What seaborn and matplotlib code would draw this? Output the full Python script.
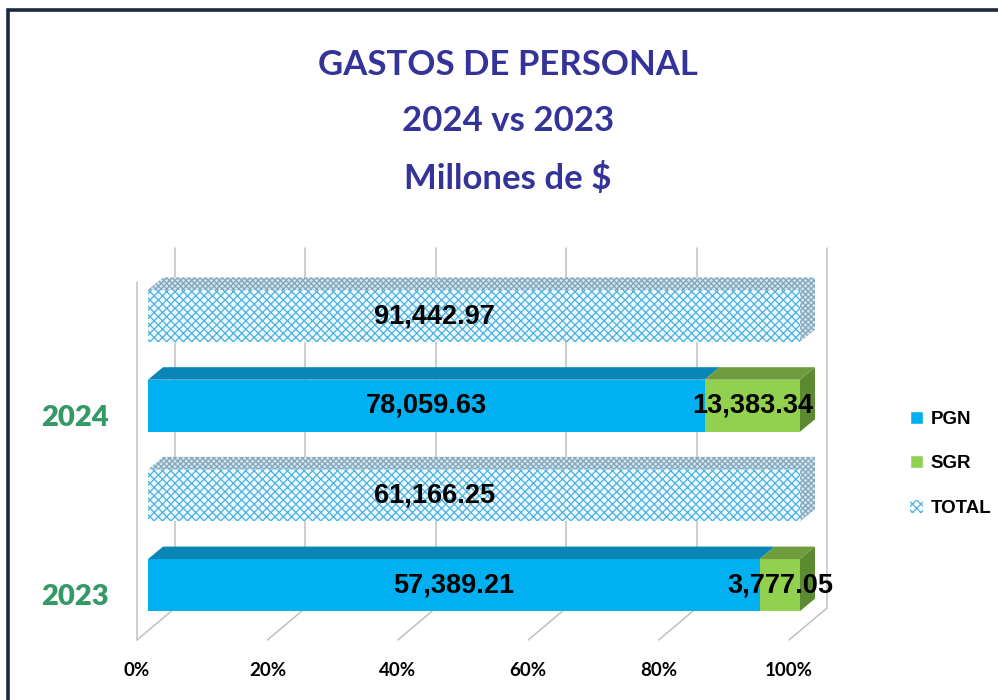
import numpy as np
import pandas as pd
import matplotlib
matplotlib.use("Agg")
import matplotlib.pyplot as plt
from matplotlib.patches import Patch, Polygon, Rectangle
import seaborn as sns

# datos (millones de $)
anios = ["2024", "2023"]
pgn = [78059.63, 57389.21]
sgr = [13383.34, 3777.05]
total = [91442.97, 61166.25]
filas = ["TOTAL 2024", "PGN 2024", "TOTAL 2023", "PGN 2023"]
ticks_pct = [0, 20, 40, 60, 80, 100]

# colores
C_PGN, C_PGN_TOP = "#00b0f0", "#0a86b6"
C_SGR, C_SGR_TOP, C_SGR_SIDE = "#92d050", "#6f9d3d", "#5c8a30"
C_TOT, C_TOT_HATCH = "#eef8fd", "#4ab3e3"
C_TOT_TOP, C_TOT_TOP_HATCH = "#d6e3ea", "#7ea6bd"
C_GRID = "#c0c0c0"
C_TITULO = "#333399"
C_ANIO = "#339966"

sns.set_style("white")
plt.rcParams["hatch.linewidth"] = 0.9
FUENTE_NUM = ["Liberation Sans Narrow", "Liberation Sans"]

# geometria en pixeles
W, H = 998, 700
PX_X = 652.0          # pixeles por 100%
PX_Y = 89.7           # pixeles por fila
X0_PX = 148           # 0% del frente de las barras
Y0_PX = 316           # centro de la primera fila
XLIM = (-0.04, 1.06)
YLIM = (3.62, -0.80)
ALTO = 0.58

# profundidad 3D en unidades de datos
DX, DY = 15 / PX_X, 12.5 / PX_Y
PISO_FRENTE_X, PISO_FONDO_X = -11 / PX_X, 27 / PX_X
PISO_FRENTE_Y, PISO_FONDO_Y = (640 - Y0_PX) / PX_Y, (608 - Y0_PX) / PX_Y
TECHO_Y = (248 - Y0_PX) / PX_Y

fig = plt.figure(figsize=(W / 100, H / 100), dpi=100)
ax_left = (X0_PX + XLIM[0] * PX_X) / W
ax_w = (XLIM[1] - XLIM[0]) * PX_X / W
ax_bottom = 1 - (Y0_PX + YLIM[0] * PX_Y) / H
ax_h = (YLIM[0] - YLIM[1]) * PX_Y / H
ax = fig.add_axes([ax_left, ax_bottom, ax_w, ax_h])

part_pgn = [p / t for p, t in zip(pgn, total)]
part_sgr = [s / t for s, t in zip(sgr, total)]

df_tot = pd.DataFrame({"fila": ["TOTAL 2024", "TOTAL 2023"],
                       "valor": [t / t for t in total]})
df_apil = pd.DataFrame({"fila": ["PGN 2024", "PGN 2023"],
                        "pgn": part_pgn,
                        "suma": [a + b for a, b in zip(part_pgn, part_sgr)]})

sns.barplot(data=df_tot, x="valor", y="fila", order=filas, orient="h", width=ALTO,
            color=C_TOT, saturation=1, errorbar=None, hatch="xxxx",
            edgecolor=C_TOT_HATCH, linewidth=0, ax=ax, zorder=3)
sns.barplot(data=df_apil, x="suma", y="fila", order=filas, orient="h", width=ALTO,
            color=C_SGR, saturation=1, errorbar=None, linewidth=0, ax=ax, zorder=3)
sns.barplot(data=df_apil, x="pgn", y="fila", order=filas, orient="h", width=ALTO,
            color=C_PGN, saturation=1, errorbar=None, linewidth=0, ax=ax, zorder=3)


def caras(x0, x1, fila, tapa, lado, hatch=None, hcolor=None):
    yt, yb = fila - ALTO / 2, fila + ALTO / 2
    sup = [(x0, yt), (x1, yt), (x1 + DX, yt - DY), (x0 + DX, yt - DY)]
    der = [(x1, yt), (x1, yb), (x1 + DX, yb - DY), (x1 + DX, yt - DY)]
    for pts, col in ((sup, tapa), (der, lado)):
        if col is None:
            continue
        ax.add_patch(Polygon(pts, closed=True, facecolor=col, hatch=hatch,
                             edgecolor=hcolor if hatch else col, linewidth=0,
                             zorder=3, clip_on=False))


for i, anio in enumerate(anios):
    f_tot = filas.index("TOTAL " + anio)
    f_ap = filas.index("PGN " + anio)
    caras(0, 1, f_tot, C_TOT_TOP, C_TOT_TOP, hatch="xxxxxx", hcolor=C_TOT_TOP_HATCH)
    caras(0, part_pgn[i], f_ap, C_PGN_TOP, None)
    caras(part_pgn[i], part_pgn[i] + part_sgr[i], f_ap, C_SGR_TOP, C_SGR_SIDE)

    ax.text(0.44, f_tot, f"{total[i]:,.2f}", ha="center", va="center",
            fontsize=19.5, fontweight="bold", color="black",
            family=FUENTE_NUM, zorder=5)
    ax.text(part_pgn[i] / 2, f_ap, f"{pgn[i]:,.2f}", ha="center", va="center",
            fontsize=19.5, fontweight="bold", color="black",
            family=FUENTE_NUM, zorder=5)
    ax.text(part_pgn[i] + part_sgr[i] / 2, f_ap, f"{sgr[i]:,.2f}", ha="center",
            va="center", fontsize=19.5, fontweight="bold", color="black",
            family=FUENTE_NUM, zorder=5)
    ax.text((75 - X0_PX) / PX_X, f_ap + 12 / PX_Y, anio, ha="center", va="center",
            fontsize=21, fontweight="heavy", color=C_ANIO, family="Lato",
            clip_on=False)

# paredes y piso
for p in ticks_pct:
    xf = p / 100
    ax.plot([xf + PISO_FONDO_X] * 2, [PISO_FONDO_Y, TECHO_Y], color=C_GRID,
            lw=1.1, zorder=1, clip_on=False)
    ax.plot([xf + PISO_FRENTE_X, xf + PISO_FONDO_X], [PISO_FRENTE_Y, PISO_FONDO_Y],
            color=C_GRID, lw=1.1, zorder=1, clip_on=False)
ax.plot([PISO_FRENTE_X] * 2, [PISO_FRENTE_Y, (282 - Y0_PX) / PX_Y], color=C_GRID,
        lw=1.1, zorder=1, clip_on=False)

ax.set_xlim(*XLIM)
ax.set_ylim(*YLIM)
ax.set_xticks([p / 100 + PISO_FRENTE_X for p in ticks_pct])
ax.set_xticklabels([f"{p}%" for p in ticks_pct], fontsize=13.5,
                   fontweight="bold", family="Lato", color="black")
ax.tick_params(axis="x", length=0, pad=15)
ax.set_yticks([])
ax.set_xlabel("")
ax.set_ylabel("")
sns.despine(ax=ax, left=True, bottom=True)

# leyenda
manijas = [Patch(facecolor=C_PGN, label="PGN"),
           Patch(facecolor=C_SGR, label="SGR"),
           Patch(facecolor="white", edgecolor=C_TOT_HATCH, hatch="xxxx",
                 linewidth=0, label="TOTAL")]
leg = fig.legend(handles=manijas, loc="upper left",
                 bbox_to_anchor=(893 / W, 1 - 394 / H), frameon=False,
                 handlelength=0.7, handleheight=0.7, handletextpad=0.4,
                 labelspacing=1.45,
                 prop={"family": FUENTE_NUM, "weight": "bold", "size": 13.5})
for t in leg.get_texts():
    t.set_color("black")

# titulo
fig.text(508 / W, 1 - 122 / H, "GASTOS DE PERSONAL\n2024 vs 2023\nMillones de $",
         ha="center", va="center", fontsize=25, fontweight="bold",
         color=C_TITULO, family="Lato", linespacing=1.93)

# marco
fig.add_artist(Rectangle((8 / W, -0.1), 1.2, 1.1 - 10 / H, transform=fig.transFigure,
                         fill=False, edgecolor="#1b2a41", linewidth=2.6,
                         clip_on=False))

fig.savefig("out.png", dpi=100)
